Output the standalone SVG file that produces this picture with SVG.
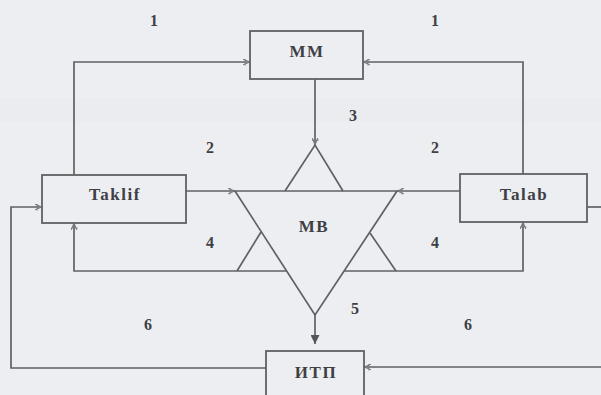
<svg xmlns="http://www.w3.org/2000/svg" width="601" height="395" viewBox="0 0 601 395">
<defs>
<style>
.bx{fill:none;stroke:#5f6062;stroke-width:1.8}
.ln{fill:none;stroke:#606164;stroke-width:1.7}
.t{font-family:"Liberation Serif","Times New Roman",serif;font-weight:bold;font-size:17px;fill:#3f4043;text-anchor:middle;letter-spacing:1.5px}
.n{font-family:"Liberation Serif","Times New Roman",serif;font-weight:bold;font-size:16px;fill:#3f4043;text-anchor:middle}
</style>
<marker id="a" viewBox="0 0 10 10" refX="10" refY="5" markerWidth="7" markerHeight="7" markerUnits="userSpaceOnUse" orient="auto">
<path d="M0,1 L10,5 L0,9 M3,0 L3,10" fill="none" stroke="#7a7b7e" stroke-width="1.5"/>
</marker>
<marker id="f" viewBox="0 0 10 10" refX="10" refY="5" markerWidth="9" markerHeight="9" markerUnits="userSpaceOnUse" orient="auto">
<path d="M0,0 L10,5 L0,10 z" fill="#55565a"/>
</marker>
</defs>
<rect x="0" y="0" width="601" height="395" fill="#eceef2"/>
<rect x="0" y="98" width="601" height="24" fill="#e7e9ed" opacity="0.5"/>

<g id="connectors">
<path class="ln" d="M74,175 V62 H250" marker-end="url(#a)"/>
<path class="ln" d="M523,174 V62 H363" marker-end="url(#a)"/>
<path class="ln" d="M315,79 V145" marker-end="url(#a)"/>
<path class="ln" d="M186,191 H235" marker-end="url(#a)"/>
<path class="ln" d="M460,191 H397" marker-end="url(#a)"/>
<path class="ln" d="M286,271 H74 V223" marker-end="url(#a)"/>
<path class="ln" d="M344,271 H523 V222" marker-end="url(#a)"/>
<path class="ln" d="M315,315 V344" marker-end="url(#f)"/>
<path class="ln" d="M266,368 H11 V207 H42" marker-end="url(#a)"/>
<path class="ln" d="M601,367 H364" marker-end="url(#a)"/>
<path class="ln" d="M587,207 H601"/>
</g>

<g id="node-mm">
<rect class="bx" x="250" y="31" width="113" height="48"/>
<text class="t" x="307" y="57">MM</text>
</g>

<g id="node-taklif">
<rect class="bx" x="42" y="175" width="144" height="48"/>
<text class="t" x="115" y="200" letter-spacing="2px">Taklif</text>
</g>

<g id="node-talab">
<rect class="bx" x="460" y="174" width="127" height="48"/>
<text class="t" x="524" y="200" letter-spacing="3px">Talab</text>
</g>

<g id="node-mb">
<polygon class="ln" points="235,191 397,191 315,315"/>
<polyline class="ln" points="285,191 315,145 343,191"/>
<line class="ln" x1="237" y1="271" x2="261" y2="232"/>
<line class="ln" x1="370" y1="233" x2="396" y2="271"/>
<text class="t" x="314" y="232">MB</text>
</g>

<g id="node-itp">
<rect class="bx" x="266" y="351" width="98" height="60"/>
<text class="t" x="316" y="378" letter-spacing="2px">ИТП</text>
</g>

<g id="labels">
<text class="n" x="154" y="26">1</text>
<text class="n" x="435" y="26">1</text>
<text class="n" x="210" y="153">2</text>
<text class="n" x="435" y="153">2</text>
<text class="n" x="353" y="121">3</text>
<text class="n" x="210" y="248">4</text>
<text class="n" x="435" y="248">4</text>
<text class="n" x="355" y="314">5</text>
<text class="n" x="148" y="330">6</text>
<text class="n" x="468" y="330">6</text>
</g>
</svg>
